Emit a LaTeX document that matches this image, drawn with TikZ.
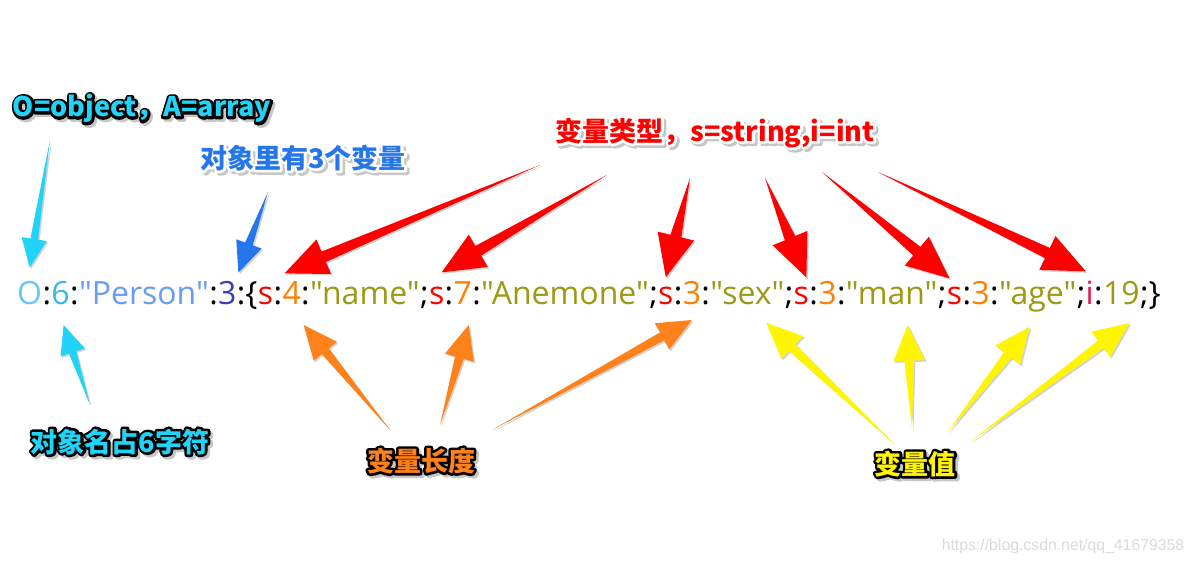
\documentclass[tikz,border=0pt]{standalone}
\usepackage{fontspec}
\newfontfamily\strfont{Open Sans}
\newfontfamily\cjk{Noto Sans CJK SC}
\newfontfamily\urlfont{Liberation Sans}
\usetikzlibrary{calc}

\definecolor{objcyan}{HTML}{21D4F7}
\definecolor{varblue}{HTML}{2476EA}
\definecolor{typered}{HTML}{FF0000}
\definecolor{lenorange}{HTML}{FF8119}
\definecolor{valyellow}{HTML}{FFF500}
\definecolor{oText}{HTML}{63C8F8}
\definecolor{sixText}{HTML}{3CB6EA}
\definecolor{nameText}{HTML}{6A9CF3}
\definecolor{cntText}{HTML}{3C3CB4}
\definecolor{valOlive}{HTML}{9A9A14}
\definecolor{lenText}{HTML}{FF8000}
\definecolor{intText}{HTML}{E8174F}

\tikzset{
  seg/.style={inner sep=0pt, anchor=base west, font=\strfont\fontsize{32}{36}\selectfont},
  tagfont/.style={inner sep=0pt, font=\cjk\bfseries\fontsize{27}{30}\selectfont},
}

% stroked copy of a text (outline only)
\newcommand\strokedtext[3]{\color{#1}\special{pdf:literal direct 1 Tr #2 w 1 j}#3\special{pdf:literal direct 0 Tr}}

% label with outline and soft shadow: name, position, fill, outline, text
\newcommand\fancylabel[5]{%
  \node[tagfont] (#1) at (#2) {%
    \rlap{\kern2.5pt\raisebox{-2.5pt}{\strokedtext{black!22}{5}{#5}}}%
    \rlap{\strokedtext{#4}{5}{#5}}%
    \textcolor{#3}{#5}};
}

% tapered arrow: [size] colour, tail, tip
\newcommand\fatarrow[4][1]{%
  \fill[black, opacity=.18, transform canvas={shift={(1.5pt,-1.5pt)}}]
    (#3) -- ($(#4)!{#1*34pt}!(#3)!{#1*4.5pt}!90:(#4)$) -- ($(#4)!{#1*34pt}!(#3)!{#1*15pt}!90:(#4)$)
    -- (#4) -- ($(#4)!{#1*34pt}!(#3)!{#1*15pt}!-90:(#4)$) -- ($(#4)!{#1*34pt}!(#3)!{#1*4.5pt}!-90:(#4)$) -- cycle;
  \fill[#2]
    (#3) -- ($(#4)!{#1*34pt}!(#3)!{#1*4.5pt}!90:(#4)$) -- ($(#4)!{#1*34pt}!(#3)!{#1*15pt}!90:(#4)$)
    -- (#4) -- ($(#4)!{#1*34pt}!(#3)!{#1*15pt}!-90:(#4)$) -- ($(#4)!{#1*34pt}!(#3)!{#1*4.5pt}!-90:(#4)$) -- cycle;
}

\begin{document}
\begin{tikzpicture}[x=1pt,y=1pt]
\fill[white] (0,0) rectangle (1195,564);
\useasboundingbox (0,0) rectangle (1195,564);

% the serialised string
\path (17,259) node[seg,text=oText] (nO) {O}
  (nO.base east)     node[seg] (p1) {:}
  (p1.base east)     node[seg,text=sixText] (n6) {6}
  (n6.base east)     node[seg] (p2) {:}
  (p2.base east)     node[seg,text=nameText] (person) {"Person"}
  (person.base east) node[seg] (p3) {:}
  (p3.base east)     node[seg,text=cntText] (n3) {3}
  (n3.base east)     node[seg] (p4) {:\{}
  (p4.base east)     node[seg,text=typered] (s1) {s}
  (s1.base east)     node[seg] (p5) {:}
  (p5.base east)     node[seg,text=lenText] (l1) {4}
  (l1.base east)     node[seg] (p6) {:}
  (p6.base east)     node[seg,text=valOlive] (v1) {"name"}
  (v1.base east)     node[seg] (p7) {;}
  (p7.base east)     node[seg,text=typered] (s2) {s}
  (s2.base east)     node[seg] (p8) {:}
  (p8.base east)     node[seg,text=lenText] (l2) {7}
  (l2.base east)     node[seg] (p9) {:}
  (p9.base east)     node[seg,text=valOlive] (v2) {"Anemone"}
  (v2.base east)     node[seg] (p10) {;}
  (p10.base east)    node[seg,text=typered] (s3) {s}
  (s3.base east)     node[seg] (p11) {:}
  (p11.base east)    node[seg,text=lenText] (l3) {3}
  (l3.base east)     node[seg] (p12) {:}
  (p12.base east)    node[seg,text=valOlive] (v3) {"sex"}
  (v3.base east)     node[seg] (p13) {;}
  (p13.base east)    node[seg,text=typered] (s4) {s}
  (s4.base east)     node[seg] (p14) {:}
  (p14.base east)    node[seg,text=lenText] (l4) {3}
  (l4.base east)     node[seg] (p15) {:}
  (p15.base east)    node[seg,text=valOlive] (v4) {"man"}
  (v4.base east)     node[seg] (p16) {;}
  (p16.base east)    node[seg,text=typered] (s5) {s}
  (s5.base east)     node[seg] (p17) {:}
  (p17.base east)    node[seg,text=lenText] (l5) {3}
  (l5.base east)     node[seg] (p18) {:}
  (p18.base east)    node[seg,text=valOlive] (v5) {"age"}
  (v5.base east)     node[seg] (p19) {;}
  (p19.base east)    node[seg,text=intText] (s6) {i}
  (s6.base east)     node[seg] (p20) {:}
  (p20.base east)    node[seg,text=valOlive] (v6) {19}
  (v6.base east)     node[seg] (p21) {;\}};

% labels
\fancylabel{lblObj}{142,454}{objcyan}{black}{O=object，A=array}
\fancylabel{lblCount}{303,405}{varblue}{white}{对象里有3个变量}
\fancylabel{lblType}{715,430}{typered}{white}{变量类型，s=string,i=int}
\fancylabel{lblName}{120,121}{objcyan}{black}{对象名占6字符}
\fancylabel{lblLen}{421,102}{lenorange}{black}{变量长度}
\fancylabel{lblVal}{915,99}{valyellow}{black}{变量值}

\node[text=black!14, inner sep=0pt, font=\urlfont\fontsize{15.8}{18}\selectfont] (mark) at (1063,18) {https://blog.csdn.net/qq\_41679358};

% arrow ends
\coordinate (tObj)  at (50,424);
\coordinate (tName) at (90,159);
\coordinate (tCnt)  at (268,372);
\coordinate (tT1) at (540,399);
\coordinate (tT2) at (607,389);
\coordinate (tT3) at (690,386);
\coordinate (tT4) at (765,386);
\coordinate (tT5) at (822,392);
\coordinate (tT6) at (878,392);
\coordinate (tL1) at (390,134);
\coordinate (tL2) at (440,139);
\coordinate (tL3) at (492,134);
\coordinate (tV1) at (893,121);
\coordinate (tV2) at (912,136);
\coordinate (tV3) at (947,131);
\coordinate (tV4) at (970,122);

\coordinate (hObj)  at ([yshift=14]nO.north);
\coordinate (hName) at ([shift={(3,-20)}]n6.base);
\coordinate (hCnt)  at ([shift={(11,9)}]n3.north);
\coordinate (hT1) at ([shift={(19,14)}]s1.north);
\coordinate (hT2) at ([shift={(5,15)}]s2.north);
\coordinate (hT3) at ([shift={(0,10)}]s3.north);
\coordinate (hT4) at ([shift={(5,10)}]s4.north);
\coordinate (hT5) at ([shift={(-5,9)}]s5.north);
\coordinate (hT6) at ([shift={(-4,10)}]s6.north);
\coordinate (hL1) at ([shift={(12,-20)}]l1.base);
\coordinate (hL2) at ([shift={(6,-20)}]l2.base);
\coordinate (hL3) at ([shift={(0,-15)}]l3.base);
\coordinate (hV1) at ([shift={(19,-18)}]v3.base);
\coordinate (hV2) at ([shift={(16,-20)}]v4.base);
\coordinate (hV3) at ([shift={(-8,-22)}]v5.base);
\coordinate (hV4) at ([shift={(8,-18)}]v6.base);

\fatarrow[.85]{objcyan}{tObj}{hObj}
\fatarrow[.85]{objcyan}{tName}{hName}
\fatarrow[.9]{varblue}{tCnt}{hCnt}
\foreach \i in {1,...,6} {\fatarrow[1.25]{typered}{tT\i}{hT\i}}
\foreach \i in {1,2,3} {\fatarrow{lenorange}{tL\i}{hL\i}}
\foreach \i in {1,...,4} {\fatarrow[1.05]{valyellow}{tV\i}{hV\i}}
\end{tikzpicture}
\end{document}
